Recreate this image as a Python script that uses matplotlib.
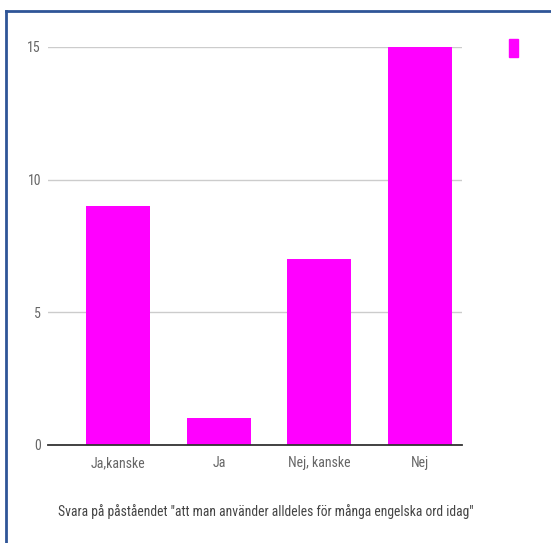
import matplotlib.pyplot as plt
from matplotlib.patches import Rectangle
from matplotlib.lines import Line2D
from matplotlib import font_manager

answers = ['Ja,kanske', 'Ja', 'Nej, kanske', 'Nej']
counts = [9, 1, 7, 15]
yticks = [0, 5, 10, 15]
xlabel = 'Svara på påståendet "att man använder alldeles för många engelska ord idag"'

names = {f.name for f in font_manager.fontManager.ttflist}
family = 'Roboto'
for cand in ['Roboto Condensed', 'Open Sans Condensed', 'Barlow Semi Condensed',
             'Archivo Narrow', 'Asap Condensed']:
    if cand in names:
        family = cand
        break
plt.rcParams['font.family'] = [family, 'DejaVu Sans']

fig = plt.figure(figsize=(5.51, 5.43), dpi=100)
W, H = 551, 543

# page frame: only the top and left edges fall inside the image
fig.add_artist(Line2D([6 / W, 1], [1 - 11 / H, 1 - 11 / H], color='#2f5597', lw=2))
fig.add_artist(Line2D([6 / W, 6 / W], [0, 1 - 11 / H], color='#2f5597', lw=2))

ax = fig.add_axes([48 / W, 1 - 445 / H, (462 - 48) / W, (445 - 47) / H])
x = range(len(answers))
ax.bar(x, counts, width=0.64, color='#ff00ff', zorder=3)
ax.set_xlim(-0.70, 3.42)
ax.set_ylim(0, 15)
ax.set_yticks(yticks)
ax.set_xticks(list(x))
ax.set_xticklabels(answers)
ax.grid(axis='y', color='#cccccc', lw=1, zorder=0)
for s in ['top', 'right', 'left']:
    ax.spines[s].set_visible(False)
ax.spines['bottom'].set_color('#333333')
ax.spines['bottom'].set_linewidth(1.3)
ax.spines['bottom'].set_zorder(4)
ax.tick_params(axis='both', length=0, colors='#666666', labelsize=10)
ax.tick_params(axis='y', pad=5)
ax.tick_params(axis='x', pad=8)

fig.text(266 / W, 1 - 512 / H, xlabel, color='#444444', fontsize=9.8,
         ha='center', va='center')

# legend swatch without text
fig.add_artist(Rectangle((509 / W, 1 - 57 / H), 9 / W, 18 / H, color='#ff00ff'))

fig.savefig('out.png', dpi=100, facecolor='white')
